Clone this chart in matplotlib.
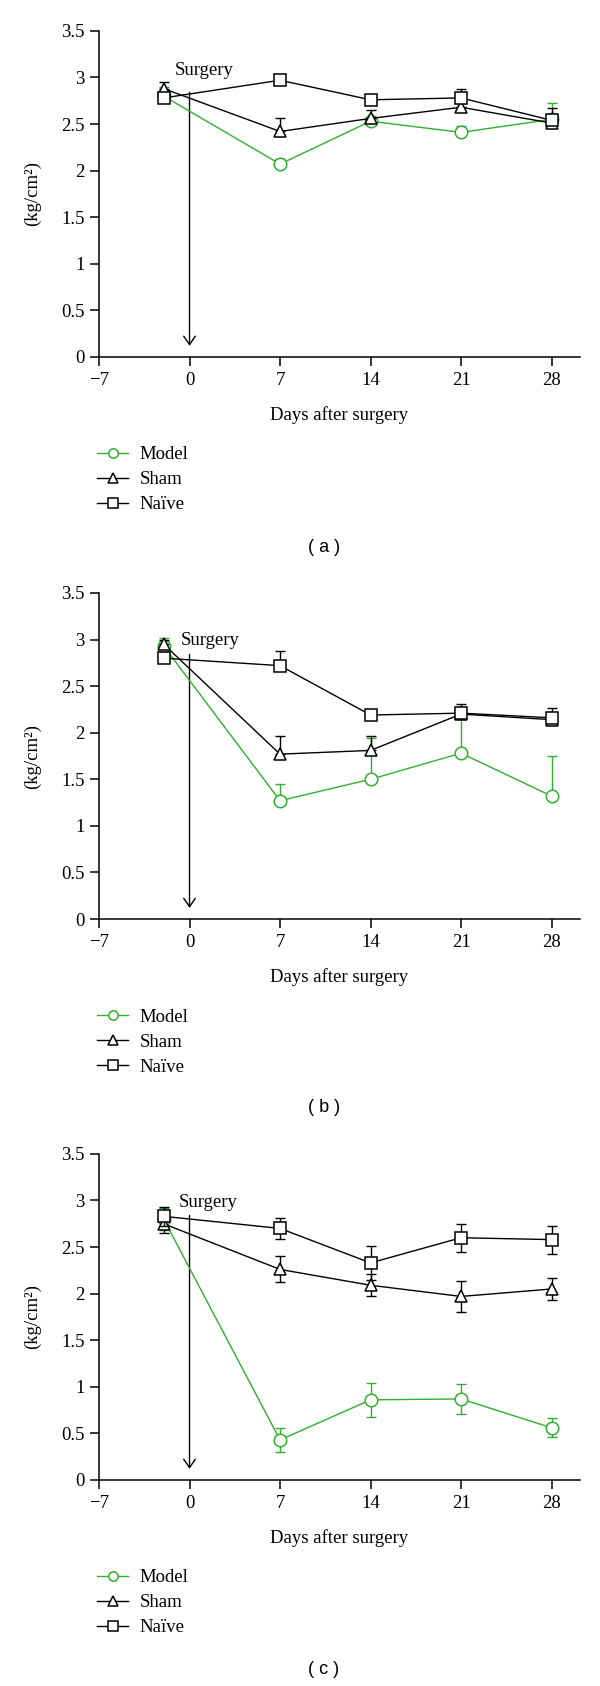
import numpy as np
import matplotlib
matplotlib.use("Agg")
from matplotlib import pyplot as plt

plt.rcParams['font.family'] = ['Liberation Serif', 'DejaVu Serif']

# data (mean and error)
days = [-2, 7, 14, 21, 28]

model_a = [2.80, 2.07, 2.53, 2.41, 2.55]
model_a_err = [0.10, 0.05, 0.03, 0.07, 0.18]
sham_a = [2.88, 2.42, 2.56, 2.68, 2.51]
sham_a_err = [0.07, 0.14, 0.09, 0.05, 0.16]
naive_a = [2.78, 2.97, 2.76, 2.78, 2.54]
naive_a_err = [0.03, 0.02, 0.03, 0.10, 0.03]

model_b = [2.93, 1.27, 1.50, 1.78, 1.32]
model_b_err = [0.09, 0.18, 0.44, 0.42, 0.43]
sham_b = [2.95, 1.77, 1.81, 2.20, 2.14]
sham_b_err = [0.04, 0.20, 0.16, 0.05, 0.08]
naive_b = [2.80, 2.72, 2.19, 2.21, 2.16]
naive_b_err = [0.03, 0.16, 0.03, 0.10, 0.11]

model_c = [2.80, 0.43, 0.86, 0.87, 0.56]
model_c_err = [0.12, 0.13, 0.18, 0.16, 0.10]
sham_c = [2.75, 2.26, 2.09, 1.97, 2.05]
sham_c_err = [0.10, 0.14, 0.12, 0.17, 0.12]
naive_c = [2.83, 2.70, 2.33, 2.60, 2.58]
naive_c_err = [0.10, 0.11, 0.18, 0.15, 0.15]

xticks = [-7, 0, 7, 14, 21, 28]
xticklabels = ['\u22127', '0', '7', '14', '21', '28']
yticks = [0, 0.5, 1, 1.5, 2, 2.5, 3, 3.5]
yticklabels = ['0', '0.5', '1', '1.5', '2', '2.5', '3', '3.5']
panel_names = ['( a )', '( b )', '( c )']

green = '#2fb02f'

panels = [
    (model_a, model_a_err, sham_a, sham_a_err, naive_a, naive_a_err, False),
    (model_b, model_b_err, sham_b, sham_b_err, naive_b, naive_b_err, False),
    (model_c, model_c_err, sham_c, sham_c_err, naive_c, naive_c_err, True),
]
surgery_y = [3.07, 2.99, 2.98]
surgery_x = [-1.15, -0.7, -0.8]
axes_bottom = [0.7883, 0.4549, 0.1222]
label_y = [547, 1108, 1670]

fig = plt.figure(figsize=(6, 16.86), dpi=100)

for i, (m, me, s, se, n, ne, both) in enumerate(panels):
    ax = fig.add_axes([0.165, axes_bottom[i], 0.8017, 0.1934])
    series = [(m, me, green, 'o', 'Model'),
              (s, se, 'black', '^', 'Sham'),
              (n, ne, 'black', 's', 'Na\u00efve')]
    z = 3
    for vals, err, col, mk, name in series:
        err = np.array(err)
        lower = err if both else np.zeros_like(err)
        ax.errorbar(days, vals, yerr=[lower, err], fmt='none', ecolor=col,
                    elinewidth=1.0, capsize=3.6, capthick=1.0, zorder=z)
        ax.plot(days, vals, color=col, lw=1.0, marker=mk, markersize=9,
                markerfacecolor='white', markeredgecolor=col,
                markeredgewidth=1.1, label=name, zorder=z + 1)
        z += 2

    ax.annotate('', xy=(0, 0.12), xytext=(0, 2.84),
                arrowprops=dict(arrowstyle='->,head_length=0.5,head_width=0.35',
                                lw=1.0, color='black', mutation_scale=12,
                                shrinkA=0, shrinkB=0))
    ax.text(surgery_x[i], surgery_y[i], 'Surgery', fontsize=13.5, va='center',
            ha='left')

    ax.set_xlim(-7, 30.2)
    ax.set_ylim(0, 3.5)
    ax.set_xticks(xticks)
    ax.set_xticklabels(xticklabels)
    ax.set_yticks(yticks)
    ax.set_yticklabels(yticklabels)
    ax.tick_params(direction='out', length=6.5, width=1.1, labelsize=13.5, pad=4)
    for side in ['top', 'right']:
        ax.spines[side].set_visible(False)
    for side in ['left', 'bottom']:
        ax.spines[side].set_linewidth(1.1)

    ax.set_xlabel('Days after surgery', fontsize=13.5)
    ax.xaxis.set_label_coords(0.5, -0.15)
    ax.set_ylabel('(kg/cm\u00b2)', fontsize=13.5)
    ax.yaxis.set_label_coords(-0.12, 0.5)

    ax.legend(loc='upper left', bbox_to_anchor=(-0.005, -0.274),
              frameon=False, fontsize=13.5, borderpad=0, borderaxespad=0,
              handlelength=1.7, handletextpad=0.6, labelspacing=0.42,
              markerscale=0.75)

    fig.text(324 / 600, 1 - label_y[i] / 1686, panel_names[i],
             family='Liberation Sans', fontsize=13, ha='center', va='center')

fig.savefig('out.png', dpi=100)
